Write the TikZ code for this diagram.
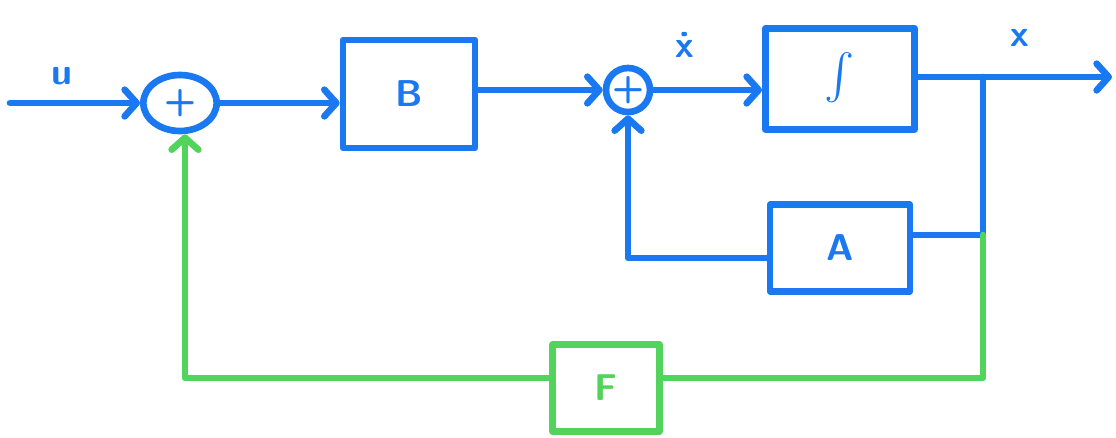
\documentclass[tikz,border=0pt]{standalone}
\usepackage{graphicx}
\usetikzlibrary{arrows.meta,shapes.geometric}
\definecolor{pblue}{RGB}{26,120,240}
\definecolor{pgreen}{RGB}{82,212,92}
\begin{document}
\begin{tikzpicture}[x=0.75pt,y=-0.75pt,
  wire/.style={line width=5pt,line cap=round,line join=round,pblue},
  gwire/.style={wire,pgreen},
  tip/.style={-{Straight Barb[length=9pt,width=20pt,round]}},
  blk/.style={draw,line width=5pt,line join=round,rectangle,inner sep=0pt,font=\sffamily\bfseries\fontsize{28}{30}\selectfont},
  lbl/.style={font=\sffamily\bfseries\fontsize{28}{30}\selectfont,pblue},
  sumnode/.style={draw,line width=5pt,pblue,inner sep=0pt,font=\sffamily\bfseries\fontsize{28}{30}\selectfont}]
\useasboundingbox (0,0) rectangle (1116,437);
% nodes
\node[sumnode,ellipse,minimum width=55pt,minimum height=42pt] (s1) at (180,103) {+};
\node[blk,pblue,minimum width=99pt,minimum height=81pt] (B) at (409,94) {B};
\node[sumnode,circle,minimum size=33pt] (s2) at (628,90) {+};
\node[blk,pblue,minimum width=112pt,minimum height=76pt] (I) at (840,79) {\scalebox{3.4}{$\int$}};
\node[blk,pblue,minimum width=105pt,minimum height=65pt] (A) at (840,248) {A};
\node[blk,pgreen,minimum width=80pt,minimum height=65pt] (F) at (606,388) {F};
% labels
\node[lbl] (lu) at (62,76) {u};
\node[lbl] (lxd) at (685,45) {\.{x}};
\node[lbl] (lx) at (1020,38) {x};
% coordinates
\coordinate (in) at (10,103);
\coordinate (out) at (1112,77);
\coordinate (br) at (983,77);
\coordinate (j) at (983,235);
\coordinate (c1) at (628,258);
\coordinate (g1) at (983,378);
\coordinate (g2) at (185,378);
% blue connectors
\draw[wire,tip] (in) -- (s1.west);
\draw[wire,tip] (s1.east) -- (s1.east -| B.west);
\draw[wire,tip] (B.east |- s2.west) -- (s2.west);
\draw[wire,tip] (s2.east) -- (s2.east -| I.west);
\draw[wire,tip] (I.east |- out) -- (out);
\draw[wire] (br) -- (j) -- (A.east |- j);
\draw[wire,tip] (A.west |- c1) -- (c1) -- (s2.south);
% green feedback
\draw[gwire] (j) -- (g1) -- (F.east |- g1);
\draw[gwire,tip] (F.west |- g1) -- (g2) -- (g2 |- s1.south);
\end{tikzpicture}
\end{document}
